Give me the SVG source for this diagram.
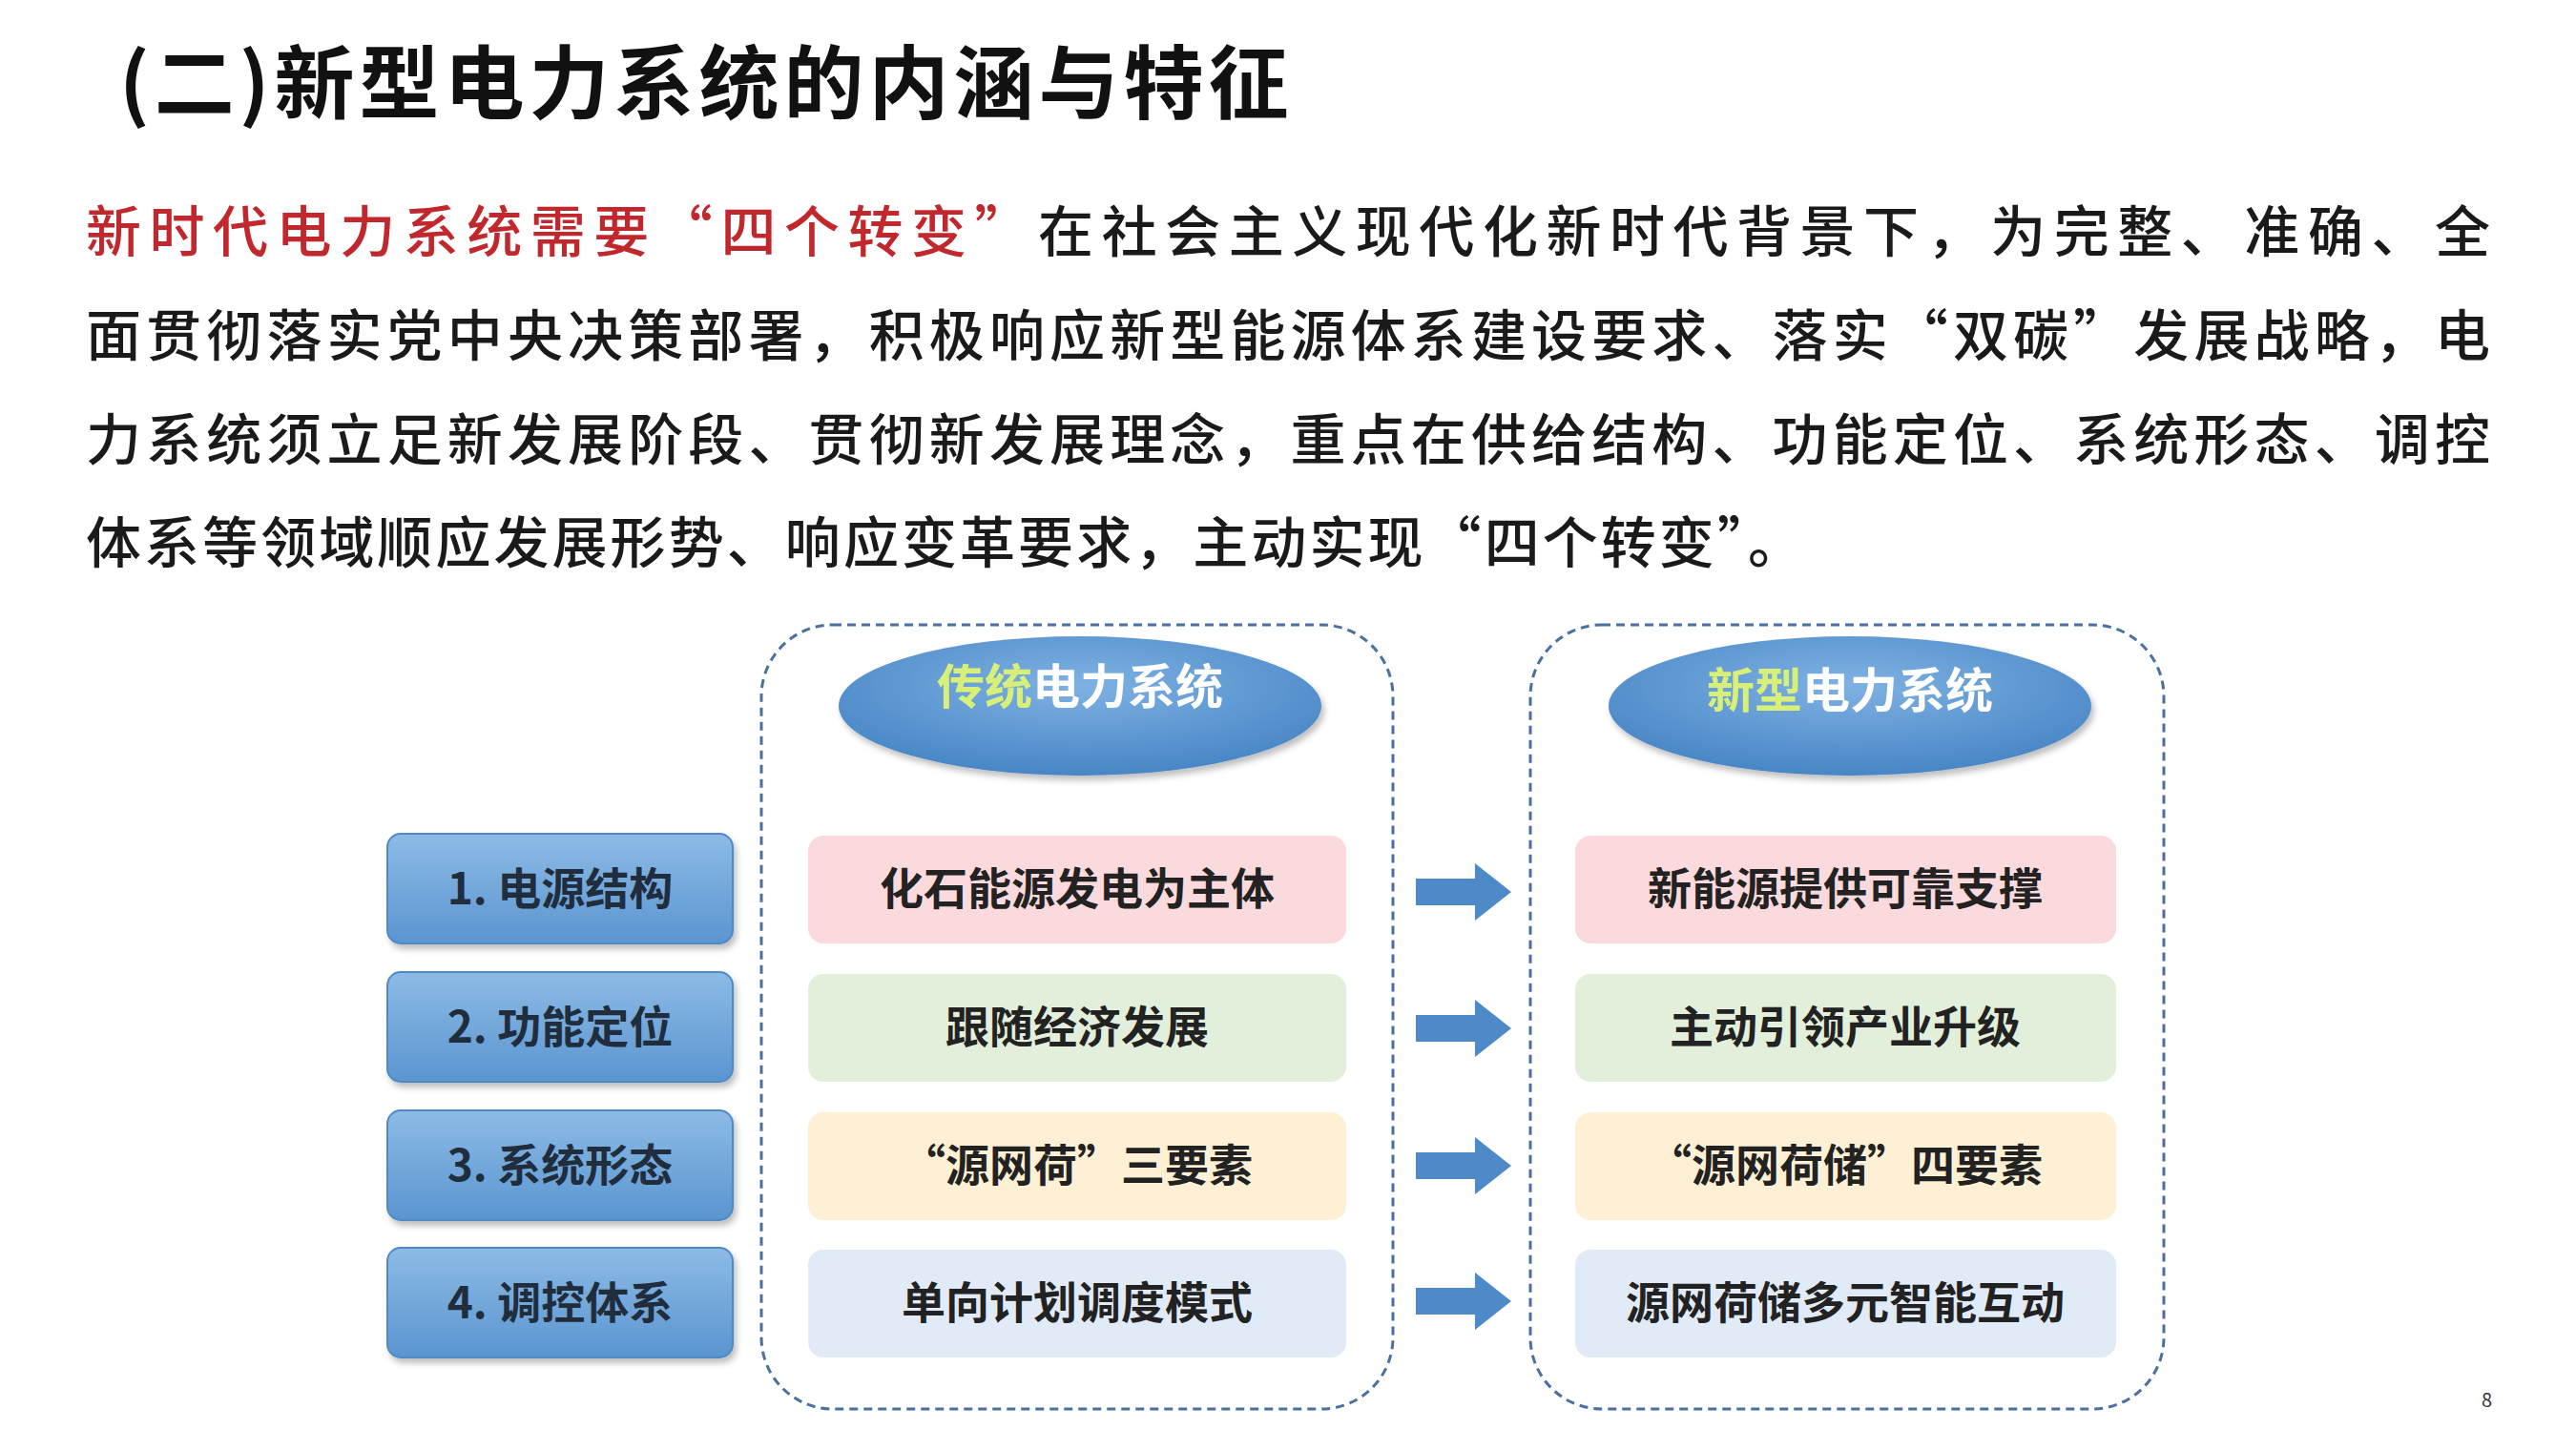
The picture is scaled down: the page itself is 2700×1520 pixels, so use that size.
<svg xmlns="http://www.w3.org/2000/svg" width="2700" height="1520" viewBox="0 0 2700 1520">
<defs>
<style>
.t{font-family:"Noto Sans CJK SC","Noto Sans",sans-serif}
.title{font-size:84px;font-weight:700;fill:#111;letter-spacing:5px}
.p{font-size:58px;fill:#1a1a1a;font-weight:500}
.lab{font-size:46px;font-weight:700;fill:#1f2d3d;text-anchor:middle}
.box{font-size:46px;font-weight:700;fill:#222;text-anchor:middle}
.ell{font-size:50px;font-weight:700;fill:#fff;text-anchor:middle}
.cont{fill:#fff;stroke:#4a6fa0;stroke-width:3;stroke-dasharray:9 6}
.lb{fill:url(#gb);stroke:#4f8ac4;stroke-width:2}
</style>
<linearGradient id="gb" x1="0" y1="0" x2="0" y2="1"><stop offset="0" stop-color="#8dbbe6"/><stop offset="1" stop-color="#5a95d0"/></linearGradient>
<radialGradient id="ge" cx="0.5" cy="0.35" r="0.7"><stop offset="0" stop-color="#7fb2e3"/><stop offset="1" stop-color="#4482c3"/></radialGradient>
<filter id="sh" x="-10%" y="-10%" width="130%" height="140%"><feDropShadow dx="3" dy="5" stdDeviation="3" flood-color="#000" flood-opacity="0.25"/></filter>
<path id="arr" d="M0,-14 H62 V-30 L100,0 L62,30 V14 H0 Z" fill="#4f8ac8"/>
</defs>
<rect width="2700" height="1520" fill="#fff"/>
<text class="t title" x="125" y="118">(二)新型电力系统的内涵与特征</text>
<text class="t p" x="90" y="264" textLength="2520" lengthAdjust="spacing"><tspan fill="#c0282d">新时代电力系统需要“四个转变”</tspan>在社会主义现代化新时代背景下，为完整、准确、全</text>
<text class="t p" x="90" y="373" textLength="2520" lengthAdjust="spacing">面贯彻落实党中央决策部署，积极响应新型能源体系建设要求、落实“双碳”发展战略，电</text>
<text class="t p" x="90" y="482" textLength="2520" lengthAdjust="spacing">力系统须立足新发展阶段、贯彻新发展理念，重点在供给结构、功能定位、系统形态、调控</text>
<text class="t p" x="90" y="590" textLength="1800" lengthAdjust="spacing">体系等领域顺应发展形势、响应变革要求，主动实现“四个转变”。</text>
<g id="container-old"><rect class="cont" x="798" y="655" width="662" height="822" rx="75"/></g>
<g id="container-new"><rect class="cont" x="1604" y="655" width="664" height="822" rx="75"/></g>
<g id="ellipse-old"><ellipse cx="1132" cy="740" rx="253" ry="73" fill="url(#ge)" filter="url(#sh)"/><text class="t ell" x="1132" y="738"><tspan fill="#d8f07a">传统</tspan>电力系统</text></g>
<g id="ellipse-new"><ellipse cx="1939" cy="740" rx="253" ry="73" fill="url(#ge)" filter="url(#sh)"/><text class="t ell" x="1939" y="742"><tspan fill="#d8f07a">新型</tspan>电力系统</text></g>
<g id="label-1"><rect class="lb" x="406" y="874" width="362" height="115" rx="14" filter="url(#sh)"/><text class="t lab" x="587" y="948">1. 电源结构</text></g>
<g id="label-2"><rect class="lb" x="406" y="1019" width="362" height="115" rx="14" filter="url(#sh)"/><text class="t lab" x="587" y="1093">2. 功能定位</text></g>
<g id="label-3"><rect class="lb" x="406" y="1164" width="362" height="115" rx="14" filter="url(#sh)"/><text class="t lab" x="587" y="1238">3. 系统形态</text></g>
<g id="label-4"><rect class="lb" x="406" y="1308" width="362" height="115" rx="14" filter="url(#sh)"/><text class="t lab" x="587" y="1382">4. 调控体系</text></g>
<g id="old-1"><rect x="847" y="876" width="564" height="113" rx="16" fill="#fadadd"/><text class="t box" x="1129" y="948">化石能源发电为主体</text></g>
<g id="old-2"><rect x="847" y="1021" width="564" height="113" rx="16" fill="#e2efda"/><text class="t box" x="1129" y="1093">跟随经济发展</text></g>
<g id="old-3"><rect x="847" y="1166" width="564" height="113" rx="16" fill="#fdf0d4"/><text class="t box" x="1129" y="1238">“源网荷”三要素</text></g>
<g id="old-4"><rect x="847" y="1310" width="564" height="113" rx="16" fill="#e0ebf7"/><text class="t box" x="1129" y="1382">单向计划调度模式</text></g>
<g id="new-1"><rect x="1651" y="876" width="567" height="113" rx="16" fill="#fadadd"/><text class="t box" x="1934" y="948">新能源提供可靠支撑</text></g>
<g id="new-2"><rect x="1651" y="1021" width="567" height="113" rx="16" fill="#e2efda"/><text class="t box" x="1934" y="1093">主动引领产业升级</text></g>
<g id="new-3"><rect x="1651" y="1166" width="567" height="113" rx="16" fill="#fdf0d4"/><text class="t box" x="1934" y="1238">“源网荷储”四要素</text></g>
<g id="new-4"><rect x="1651" y="1310" width="567" height="113" rx="16" fill="#e0ebf7"/><text class="t box" x="1934" y="1382">源网荷储多元智能互动</text></g>
<g id="connectors">
<use href="#arr" x="1484" y="935"/>
<use href="#arr" x="1484" y="1078"/>
<use href="#arr" x="1484" y="1222"/>
<use href="#arr" x="1484" y="1364"/>
</g>
<text class="t" x="2601" y="1475" font-size="20" fill="#333">8</text>
</svg>
